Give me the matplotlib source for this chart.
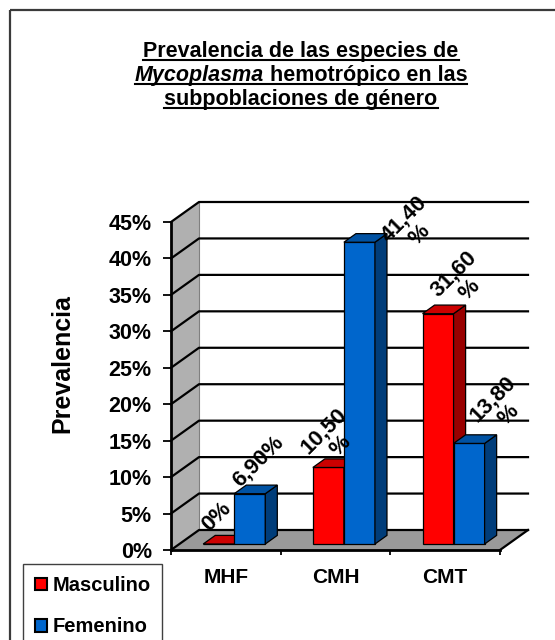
"""Prevalencia de Mycoplasma hemotrópico por género: 3D-look column chart (Excel style)."""
import matplotlib

matplotlib.use("Agg")
import matplotlib.pyplot as plt  # noqa: E402
from matplotlib.patches import Patch, Polygon, Rectangle  # noqa: E402

CATEGORIES = ["MHF", "CMH", "CMT"]
MASCULINO = [0.0, 10.5, 31.6]
FEMENINO = [6.9, 41.4, 13.8]
LABELS_M = ["0%", "10,50\n%", "31,60\n%"]
LABELS_F = ["6,90%", "41,40\n%", "13,80\n%"]
Y_TICKS = [0, 5, 10, 15, 20, 25, 30, 35, 40, 45]
SERIES = ["Masculino", "Femenino"]
YLABEL = "Prevalencia"
TITLE = [
    [("Prevalencia de las especies de", "normal")],
    [("Mycoplasma", "italic"), (" hemotrópico en las", "normal")],
    [("subpoblaciones de género", "normal")],
]

# styling / layout (pixels, top-left origin)
W, H = 555, 640
PLOT = (171, 222, 500, 550)          # front face of the plot box
DEPTH_PX = (28, 20)                  # oblique depth offset of the back wall
Z0, Z1 = 0.30, 0.73                  # bar front / back depth (fraction of depth)
BAR_W = 0.283
RED = ("#FF0000", "#CC0000", "#990000")
BLUE = ("#0066CC", "#0052A3", "#003D7A")
WALL, FLOOR = "#B0B0B0", "#9A9A9A"
# label offsets (pixels) from each bar's front-top centre
OFF_M = [(-2, 27), (4, 29), (24, 32)]
OFF_F = [(8, 32), (52, 15), (32, 36)]

plt.rcParams["font.family"] = ["Liberation Sans", "DejaVu Sans"]
plt.rcParams["font.weight"] = "bold"

fig = plt.figure(figsize=(W / 100, H / 100), dpi=100)

# overlay in pixel coordinates for title, frame, y label
lay = fig.add_axes([0, 0, 1, 1])
lay.set_xlim(0, W)
lay.set_ylim(H, 0)
lay.axis("off")
lay.add_patch(Rectangle((9.5, 10), 600, 700, fill=False, ec="#3a3a3a", lw=1.6, clip_on=False))

x0p, y0p, x1p, y1p = PLOT
ax = fig.add_axes([x0p / W, 1 - y1p / H, (x1p - x0p) / W, (y1p - y0p) / H])
ax.set_xlim(0, len(CATEGORIES))
ax.set_ylim(0, Y_TICKS[-1])
ax.patch.set_visible(False)

NX = len(CATEGORIES)
YMAX = Y_TICKS[-1]
DX = DEPTH_PX[0] / ((x1p - x0p) / NX)
DY = DEPTH_PX[1] / ((y1p - y0p) / YMAX)


def face(pts, color, z, ec="none", lw=0.0):
    ax.add_patch(Polygon(pts, closed=True, fc=color, ec=ec, lw=lw, zorder=z,
                         clip_on=False, joinstyle="miter"))


# walls and floor
face([(0, 0), (DX, DY), (DX, YMAX + DY), (0, YMAX)], WALL, 1)
face([(DX, DY), (NX + DX, DY), (NX + DX, YMAX + DY), (DX, YMAX + DY)], "white", 1)
face([(0, 0), (NX, 0), (NX + DX, DY), (DX, DY)], FLOOR, 1)
ax.plot([DX, DX], [DY, YMAX + DY], color="#808080", lw=0.8, zorder=1.5, clip_on=False)
for v in Y_TICKS:
    ax.plot([0, DX, NX + DX], [v, v + DY, v + DY], color="black", lw=1.6,
            zorder=2, clip_on=False)
ax.plot([NX, NX + DX], [0, DY], color="black", lw=1.6, zorder=2, clip_on=False)


def bar3d(x, h, colors):
    front, top, side = colors
    ax0, ay0 = Z0 * DX, Z0 * DY
    ax1, ay1 = Z1 * DX, Z1 * DY
    xl, xr = x + ax0, x + BAR_W + ax0
    kw = dict(ec="black", lw=0.9)
    face([(xl, ay0), (xr, ay0), (xr, ay0 + h), (xl, ay0 + h)], front, 3, **kw)
    face([(xr, ay0), (x + BAR_W + ax1, ay1), (x + BAR_W + ax1, ay1 + h), (xr, ay0 + h)],
         side, 3, **kw)
    face([(xl, ay0 + h), (xr, ay0 + h), (x + BAR_W + ax1, ay1 + h), (x + ax1, ay1 + h)],
         top, 3, **kw)


for i in range(NX):
    bar3d(i + 0.5 - BAR_W, MASCULINO[i], RED)
    bar3d(i + 0.5, FEMENINO[i], BLUE)

for vals, labels, offs, sign in ((MASCULINO, LABELS_M, OFF_M, -1),
                                 (FEMENINO, LABELS_F, OFF_F, 1)):
    for i, (v, lab, off) in enumerate(zip(vals, labels, offs)):
        xc = i + 0.5 + sign * BAR_W / 2 + Z0 * DX
        ax.annotate(lab, (xc, v + Z0 * DY), xytext=off, textcoords="offset pixels",
                    rotation=45, ha="center", va="center", multialignment="center",
                    fontsize=16, fontweight="bold", zorder=6, annotation_clip=False,
                    linespacing=1.1)

# axes, ticks
ax.set_yticks(Y_TICKS)
ax.set_yticklabels([f"{v}%" for v in Y_TICKS])
ax.set_xticks(range(NX + 1))
ax.set_xticklabels([])
ax.set_xticks([i + 0.5 for i in range(NX)], minor=True)
ax.set_xticklabels(CATEGORIES, minor=True)
ax.tick_params(axis="y", direction="out", length=5.8, width=1.3, pad=8, labelsize=15.5)
ax.tick_params(axis="x", which="major", direction="out", length=3.6, width=1.3)
ax.tick_params(axis="x", which="minor", length=0, pad=13, labelsize=15)
for s in ("top", "right"):
    ax.spines[s].set_visible(False)
for s in ("left", "bottom"):
    ax.spines[s].set_linewidth(2)
    ax.spines[s].set_zorder(4)

lay.text(62, 364, YLABEL, rotation=90, ha="center", va="center", fontsize=18,
         fontweight="bold")

# title with underline, pieces laid out by measured width
renderer = fig.canvas.get_renderer()
baselines = [57, 81, 105]
for line, yb in zip(TITLE, baselines):
    pieces = [lay.text(0, yb, txt, fontsize=15.5, fontweight="bold", fontstyle=st,
                       ha="left", va="baseline") for txt, st in line]
    widths = [p.get_window_extent(renderer).width for p in pieces]
    x = 301 - sum(widths) / 2
    start = x
    for p, w in zip(pieces, widths):
        p.set_x(x)
        x += w
    lay.plot([start, x], [yb + 3, yb + 3], color="black", lw=1.5)

handles = [Patch(fc=RED[0], ec="black", lw=1.5), Patch(fc=BLUE[0], ec="black", lw=1.5)]
leg = fig.legend(handles, SERIES, loc="upper left", bbox_to_anchor=(23 / W, 1 - 564 / H),
                 borderaxespad=0, fancybox=False, framealpha=1, edgecolor="#404040",
                 prop={"weight": "bold", "size": 14.5}, handlelength=0.6, handleheight=0.6,
                 handletextpad=0.25, labelspacing=1.1, borderpad=0.6)
leg.get_frame().set_linewidth(1.0)

fig.savefig("out.png", dpi=100)
